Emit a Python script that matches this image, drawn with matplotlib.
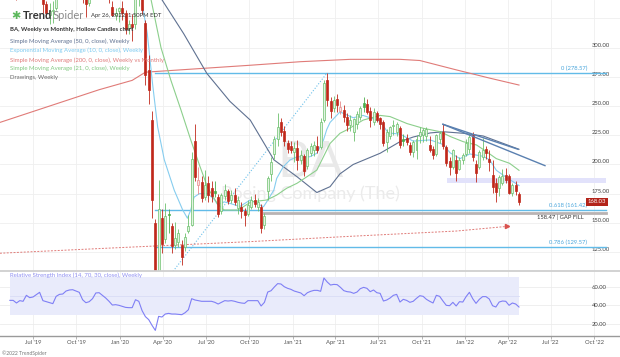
import numpy as np
import pandas as pd
import matplotlib
matplotlib.use('Agg')
import matplotlib.pyplot as plt
import matplotlib.dates as mdates
import matplotlib.transforms as mtransforms

plt.rcParams['font.family'] = ['Lato', 'DejaVu Sans']

# ---- data ----
first_week = '2019-05-13'   # weekly candles, one per Monday
opens = [346, 352, 350, 343, 352, 350, 367, 364, 351, 372,
         365, 337, 328, 331, 334, 352, 364, 372, 384, 383,
         378, 371, 370, 344, 338, 350, 366, 369, 363, 362,
         352, 335, 328, 331, 334, 330, 317, 320, 320, 342,
         345, 321, 281, 238, 150, 97, 154, 136, 158, 147,
         131, 134, 131, 129, 143, 148, 220, 182, 185, 172,
         184, 180, 177, 172, 160, 173, 177, 170, 174, 163,
         164, 160, 158, 164, 170, 164, 164, 148, 177, 192,
         209, 222, 236, 229, 218, 216, 211, 214, 204, 207,
         199, 210, 212, 216, 215, 238, 272, 254, 248, 256,
         246, 247, 241, 234, 228, 235, 241, 253, 252, 246,
         236, 244, 240, 236, 219, 224, 233, 228, 231, 222,
         223, 217, 211, 212, 224, 225, 224, 217, 213, 209,
         222, 228, 215, 203, 198, 204, 196, 204, 209, 213,
         225, 200, 198, 206, 213.5, 205, 191, 184, 180, 184,
         191, 190, 175.5, 182, 175]
highs = [356, 356, 352, 355, 356, 370, 370, 368, 374, 375,
         368, 340, 338, 340, 355, 365, 374, 387, 387, 389,
         382, 374, 375, 345, 352, 368, 372, 372, 368, 364,
         356, 340, 334, 335, 340, 332, 324, 329, 345, 349,
         349, 324, 294, 246, 153, 187, 162, 167, 162, 150,
         151, 145, 135, 141, 157, 211, 235, 198, 190, 195,
         190, 186, 186, 175, 176, 183, 179, 178, 180, 173,
         168, 163, 170, 173, 175, 171, 166, 158.47, 190, 206,
         224, 244, 240, 233, 221, 220, 219, 221, 212, 209,
         214, 218, 220, 224, 240, 272, 278.57, 258, 259, 260,
         254, 251, 244, 242, 240, 246, 250, 258, 256, 249,
         248, 246, 241, 238, 230, 233, 238, 236, 233, 226,
         226, 219, 221, 225, 232, 231, 232, 224, 216, 226,
         229, 234.4, 217, 206, 213, 208, 206, 210, 222, 227,
         228, 204, 212, 223, 216, 212, 204, 188, 191, 196,
         197, 192, 184, 186, 176.5]
lows = [342, 344, 341, 342, 344, 348, 358, 349, 345, 360,
        330, 325, 320, 321, 332, 350, 360, 370, 375, 371,
        360, 352, 338, 326, 336, 348, 360, 358, 360, 345,
        338, 327, 324, 322, 324, 312, 312, 306, 316, 336,
        329, 268, 252, 154, 89, 94, 124, 133, 141, 124,
        128, 129, 114, 126, 141, 147, 186, 175, 168, 170,
        168, 168, 172, 155, 158, 170, 166, 167, 165, 158,
        154, 147, 156, 162, 164, 160, 141, 145, 170, 186,
        205, 216, 224, 216, 210, 210, 202, 195, 200, 190,
        196, 207, 207, 210, 213, 236, 250, 240, 245, 245,
        243, 236, 229, 229, 220, 230, 238, 245, 243, 232,
        234, 236, 230, 216, 211, 222, 225, 224, 214, 216,
        217, 208, 206, 205, 218, 219, 220, 211, 205, 207,
        218, 213, 199, 191, 196, 186, 195, 200, 207, 210,
        203, 185, 196, 204, 205, 194, 176, 168, 173, 182,
        184, 175, 173, 174, 165]
closes = [352, 351, 343, 352, 350, 367, 364, 351, 372, 365,
          337, 330, 331, 332, 352, 364, 372, 384, 383, 376,
          371, 370, 344, 337, 348, 366, 370, 363, 366, 352,
          342, 328, 330, 334, 330, 316, 320, 318, 342, 345,
          332, 277, 264, 170, 95, 162, 132, 156, 156.5, 130,
          137, 141, 121, 138, 147, 205, 189.5, 187, 171, 182,
          174, 173, 175.5, 158, 174, 178, 169, 174, 168, 170,
          160, 157, 165, 170, 166, 168, 146, 156, 188, 202,
          222, 232, 228, 220, 213, 212, 214, 204, 208, 194,
          212, 216, 217, 212, 236, 270, 255, 245.5, 255, 251,
          249, 241, 234, 238, 238.5, 243, 248, 249.5, 245, 238,
          245, 238, 235, 218, 228, 232, 234, 235, 217, 220,
          219, 211, 219, 222, 228, 229.5, 230, 212.5, 208, 225,
          227, 215.5, 201, 198, 212, 192.5, 204, 208, 218, 223.5,
          206.5, 192.5, 211, 212.5, 209.6, 202.4, 181, 176.7, 189.5, 190,
          187, 176, 182, 177, 168.03]
rsi = [45.3, 45.3, 42.5, 45.0, 44.3, 50.7, 48.2, 48.9, 51.4, 53.9,
       45.0, 43.9, 42.8, 41.8, 49.6, 51.7, 52.1, 55.3, 56.4, 56.7,
       55.3, 53.9, 46.0, 42.8, 43.9, 47.1, 53.2, 53.5, 50.7, 47.8,
       44.3, 40.3, 40.7, 40.0, 38.9, 37.8, 37.5, 37.5, 46.0, 44.3,
       34.3, 27.9, 24.7, 18.6, 13.2, 28.2, 27.5, 30.7, 31.4, 30.7,
       30.7, 30.4, 30.0, 32.1, 35.3, 47.1, 45.7, 45.0, 44.3, 44.3,
       44.3, 44.3, 43.2, 41.4, 43.2, 45.0, 44.6, 45.0, 44.3, 43.2,
       42.5, 42.1, 45.0, 45.0, 45.0, 45.0, 39.3, 43.2, 54.2, 55.6,
       59.6, 63.2, 62.8, 59.9, 58.2, 57.1, 55.3, 54.2, 53.2, 50.3,
       53.5, 55.0, 56.0, 56.0, 55.0, 69.2, 64.9, 61.7, 62.4, 62.1,
       59.2, 55.7, 54.6, 54.2, 52.8, 54.2, 57.8, 59.2, 58.2, 54.6,
       56.4, 53.5, 52.8, 44.6, 45.7, 47.8, 50.7, 51.7, 43.5, 46.4,
       45.3, 43.2, 44.3, 47.5, 50.3, 49.6, 46.4, 44.3, 42.5, 50.7,
       49.6, 44.6, 40.0, 39.6, 43.2, 39.3, 43.9, 43.5, 49.3, 53.9,
       47.1, 42.1, 46.4, 49.3, 49.3, 46.8, 39.6, 38.2, 43.5, 44.6,
       44.3, 40.0, 42.5, 41.4, 38.2]

sma50_dates = ['2020-03-02', '2020-03-30', '2020-05-15', '2020-07-03', '2020-08-21',
               '2020-10-03', '2020-11-22', '2021-01-10', '2021-02-21', '2021-03-21',
               '2021-04-11', '2021-05-09', '2021-07-05', '2021-08-16', '2021-09-13',
               '2021-10-19', '2021-11-16', '2021-12-28', '2022-02-08', '2022-04-25']
sma50_vals = [358, 341, 312, 278, 254, 238, 204, 189.5, 176, 181,
              192, 200, 209.6, 219.5, 223.5, 227, 228, 226.7, 224.4, 213]

ema10_dates = ['2020-02-17', '2020-02-28', '2020-03-10', '2020-03-21', '2020-04-04',
               '2020-04-25', '2020-05-13', '2020-05-23', '2020-05-30', '2020-06-06',
               '2020-06-17', '2020-07-05', '2020-07-19', '2020-07-26', '2020-08-09',
               '2020-08-21', '2020-09-11', '2020-10-03', '2020-10-17', '2020-10-31',
               '2020-11-07', '2020-11-22', '2020-11-28', '2020-12-12', '2020-12-26',
               '2021-01-10', '2021-01-24', '2021-02-06', '2021-02-21', '2021-03-07',
               '2021-03-14', '2021-03-21', '2021-04-11', '2021-05-09', '2021-05-30',
               '2021-07-05', '2021-07-22', '2021-08-16', '2021-09-13', '2021-10-19',
               '2021-11-16', '2021-11-30', '2021-12-21', '2022-01-11', '2022-02-08',
               '2022-02-22', '2022-03-08', '2022-03-29', '2022-04-25']
ema10_vals = [338, 312, 269.5, 232, 204, 178, 161, 154, 161, 172,
              175, 175, 170, 165.5, 168, 166.7, 164, 169.6, 166.7, 163.8,
              168.1, 178.1, 188.1, 198.1, 203.8, 206.6, 206.6, 206.6, 209.6, 220.9,
              230, 236, 245, 240, 242, 237, 227, 226, 220, 221,
              217, 210, 205, 209, 207, 204, 195, 189, 182]

sma21_dates = ['2020-02-17', '2020-03-07', '2020-03-28', '2020-04-18', '2020-05-09',
               '2020-05-30', '2020-06-17', '2020-07-05', '2020-07-26', '2020-08-09',
               '2020-08-23', '2020-09-07', '2020-10-05', '2020-10-26', '2020-11-07',
               '2020-11-28', '2020-12-19', '2021-01-10', '2021-01-31', '2021-02-21',
               '2021-03-07', '2021-03-21', '2021-04-11', '2021-04-25', '2021-05-30',
               '2021-07-05', '2021-07-26', '2021-08-31', '2021-10-04', '2021-11-10',
               '2021-11-30', '2021-12-28', '2022-01-25', '2022-02-15', '2022-03-08',
               '2022-04-05', '2022-04-25']
sma21_vals = [352, 341, 300, 272, 247, 221, 200, 180, 166, 161,
              161, 161, 168, 169, 169.6, 173.8, 179.6, 183.9, 189.5, 195.2,
              206.6, 218, 226.7, 229.5, 238, 242, 241, 235, 231, 228,
              224, 219.5, 216.7, 211, 205, 201, 195]

sma200_dates = ['2019-04-22', '2019-08-05', '2019-11-18', '2020-01-27', '2020-02-24',
                '2020-06-15', '2020-10-05', '2021-01-18', '2021-05-03', '2021-08-16',
                '2021-09-27', '2021-12-13', '2022-02-21', '2022-04-25']
sma200_vals = [236, 250, 264, 272, 279, 282, 285, 288, 290, 290, 289, 281, 274, 268]

sma200m_dates = ['2019-04-22', '2019-11-18', '2020-10-05', '2021-05-03', '2021-12-13', '2022-03-31']
sma200m_vals = [124, 128, 134, 138.5, 143, 147]

fib_low = ('2020-03-16', 89.0)
fib_high = ('2021-03-15', 278.57)
fib_levels = [0, 0.618, 0.786]
gap_fill = 158.47
zone = (184, 188)
trend_start = ('2021-11-15', 234.4)
trend_ends = [('2022-04-23', 213.0), ('2022-06-19', 199.0)]
last_price = 168.03

# ---- layout helpers ----
W, H = 620, 357
ppd = 0.4723                      # pixels per day
x_ref = mdates.date2num(pd.Timestamp('2019-07-01'))
xlim = (x_ref - 33 / ppd, x_ref + 587 / ppd)
ext_end = mdates.date2num(pd.Timestamp('2022-10-27'))


def dn(s):
    return mdates.date2num(pd.to_datetime(s))


fig = plt.figure(figsize=(W / 100, H / 100), dpi=100)
ax = fig.add_axes([0, 86 / H, 1, 271 / H])
axr = fig.add_axes([0, 21 / H, 1, 65 / H])

quarters = pd.date_range('2019-07-01', '2022-10-01', freq='QS')
qn = mdates.date2num(quarters)
qlabels = [q.strftime("%b '%y") for q in quarters]

# ---- main price panel ----
ax.set_xlim(*xlim)
ax.set_ylim(108.8, 340.8)
for s in ax.spines.values():
    s.set_visible(False)
for p in range(125, 341, 25):
    ax.axhline(p, color='#efefef', lw=0.6, zorder=0)
for q in qn:
    ax.axvline(q, color='#efefef', lw=0.6, zorder=0)

ax.text(0.5, 0.40, 'BA', transform=ax.transAxes, ha='center', va='center',
        fontsize=36, color='#e9e9e9', zorder=0.5)
ax.text(0.5, 0.284, 'Boeing Company (The)', transform=ax.transAxes, ha='center',
        va='center', fontsize=13, color='#ebebeb', zorder=0.5)

# support zone and gap fill
ax.fill_between([dn('2021-11-23'), ext_end], zone[0], zone[1], color='#e2e2fb', lw=0, zorder=1)
ax.plot([dn('2020-11-02'), ext_end], [gap_fill, gap_fill], color='#b9b3b3', lw=2, zorder=2)

# fibonacci retracement
lo_x, hi_x = dn(fib_low[0]), dn(fib_high[0])
ax.plot([lo_x, hi_x], [fib_low[1], fib_high[1]], color='#6cc0ea', lw=0.8,
        ls=(0, (1, 1.6)), zorder=2)
blend = mtransforms.blended_transform_factory(ax.transAxes, ax.transData)
for f in fib_levels:
    lvl = fib_high[1] - f * (fib_high[1] - fib_low[1])
    ax.plot([lo_x, ext_end], [lvl, lvl], color='#62bbe8', lw=1.0, zorder=2)
    txt = '%g (%.2f)' % (f, lvl)
    ax.text(587 / W, lvl + 1.2, txt, transform=blend, ha='right', va='bottom',
            fontsize=4.2, color='#4aa6dc', zorder=5)
ax.text(584 / W, gap_fill - 1.5, '%.2f | GAP FILL' % gap_fill, transform=blend,
        ha='right', va='top', fontsize=4.2, color='#333333', zorder=5)

# moving averages
ax.plot(pd.to_datetime(sma200_dates), sma200_vals, color='#e07b78', lw=0.8, zorder=3)
ax.plot(pd.to_datetime(sma200m_dates), sma200m_vals, color='#e07b78', lw=0.7,
        ls=(0, (2, 1.5)), zorder=3)
ax.plot([dn(sma200m_dates[-1])], [sma200m_vals[-1]], marker='>', ms=3,
        color='#d9534f', zorder=3)
ax.plot(pd.to_datetime(sma50_dates), sma50_vals, color='#5f7191', lw=0.8, zorder=3)
ax.plot(pd.to_datetime(ema10_dates), ema10_vals, color='#86cdef', lw=0.8, zorder=3)
ax.plot(pd.to_datetime(sma21_dates), sma21_vals, color='#8ccf8c', lw=0.8, zorder=3)

# hollow candles
weeks = pd.date_range(first_week, periods=len(closes), freq='7D')
d = mdates.date2num(weeks)
o, h, l, c = map(np.array, (opens, highs, lows, closes))
prev = np.r_[o[0], c[:-1]]
up = c >= prev
hollow = c >= o
edge, face = [], []
for u, hl in zip(up, hollow):
    if u and hl:
        edge.append('#6cc06c'); face.append('#e2f4e2')
    elif u:
        edge.append('#4cae4c'); face.append('#4cae4c')
    elif hl:
        edge.append('#e88a8a'); face.append('#fbe2e2')
    else:
        edge.append('#c0281b'); face.append('#c0281b')
ax.vlines(d, l, h, colors=edge, lw=0.6, zorder=4)
ax.bar(d, np.maximum(np.abs(c - o), 0.6), bottom=np.minimum(o, c), width=4.2,
       color=face, edgecolor=edge, linewidth=0.5, zorder=4)

# trendline drawings
for end in trend_ends:
    ax.plot([dn(trend_start[0]), dn(end[0])], [trend_start[1], end[1]],
            color='#5a80b0', lw=1.0, zorder=5)

# price axis labels inside the plot
ax.set_yticks(range(125, 301, 25))
ax.set_yticklabels(['%.2f' % v for v in range(125, 301, 25)])
ax.yaxis.tick_right()
ax.tick_params(axis='y', length=0, pad=-20.2, labelsize=4.2, colors='#444444')
for lbl in ax.get_yticklabels():
    lbl.set_verticalalignment('bottom')
ax.set_xticks([])
ax.text(588 / W, last_price, '%.2f' % last_price, transform=blend, ha='left',
        va='center', fontsize=4.2, color='white', zorder=6,
        bbox=dict(boxstyle='square,pad=0.3', fc='#b3241a', ec='none'))

# ---- RSI panel ----
axr.set_xlim(*xlim)
axr.set_ylim(7.2, 76.7)
for q in qn:
    axr.axvline(q, color='#efefef', lw=0.6, zorder=0)
for p in (20, 40, 60):
    axr.axhline(p, color='#ececec', lw=0.6, zorder=0)
axr.fill_between([d[0], d[-1]], 30, 70, color='#e9ebfb', lw=0, zorder=1)
axr.plot([d[0], d[-1]], [50, 50], color='#d9dcf6', lw=0.6, zorder=1)
axr.plot(d, rsi, color='#7f7ff5', lw=0.8, zorder=3)
axr.text(10 / W, 0.93, 'Relative Strength Index (14, 70, 30, close), Weekly',
         transform=axr.transAxes, ha='left', va='center', fontsize=4.3, color='#8f8ff2')
axr.set_yticks([20, 40, 60])
axr.set_yticklabels(['20.00', '40.00', '60.00'])
axr.yaxis.tick_right()
axr.tick_params(axis='y', length=0, pad=-20.2, labelsize=4.2, colors='#444444')
axr.set_xticks(qn)
axr.set_xticklabels(qlabels)
axr.tick_params(axis='x', length=2, width=0.5, color='#999999', pad=1,
                labelsize=4.2, colors='#555555')
for side in ('left', 'right'):
    axr.spines[side].set_visible(False)
axr.spines['top'].set_color('#cfcfcf')
axr.spines['top'].set_linewidth(1.3)
axr.spines['bottom'].set_color('#9a9a9a')
axr.spines['bottom'].set_linewidth(1.0)

# ---- header text ----
def fy(y):
    return 1 - y / H


fig.text(16 / W, fy(15.5), '\u2731', ha='center', va='center', fontsize=8, color='#5cb85c')
t1 = fig.text(23 / W, fy(15.5), 'Trend', ha='left', va='center', fontsize=8,
              fontweight='bold', color='#333333')
fig.canvas.draw()
bb = t1.get_window_extent()
fig.text(bb.x1 / W, fy(15.5), 'Spider', ha='left', va='center', fontsize=8, color='#8a8a8a')
fig.text(91 / W, fy(15.5), 'Apr 26, 2022, 1:50PM EDT', ha='left', va='center',
         fontsize=4.2, color='#333333')
fig.text(10 / W, fy(30), 'BA, Weekly vs Monthly, Hollow Candles chart', ha='left',
         va='center', fontsize=4.3, color='#333333', fontweight='bold')
legend_rows = [('Simple Moving Average (50, 0, close), Weekly', '#5f7191', 41.7),
               ('Exponential Moving Average (10, 0, close), Weekly', '#7ccaf0', 50.7),
               ('Simple Moving Average (200, 0, close), Weekly vs Monthly', '#e07a7a', 60),
               ('Simple Moving Average (21, 0, close), Weekly', '#80c880', 68.6),
               ('Drawings, Weekly', '#666666', 77.3)]
for txt, col, y in legend_rows:
    fig.text(10 / W, fy(y), txt, ha='left', va='center', fontsize=4.3, color=col)
fig.text(2 / W, fy(352.7), '\u00a92022 TrendSpider', ha='left', va='center',
         fontsize=3.6, color='#777777')

fig.savefig('out.png', dpi=100)
